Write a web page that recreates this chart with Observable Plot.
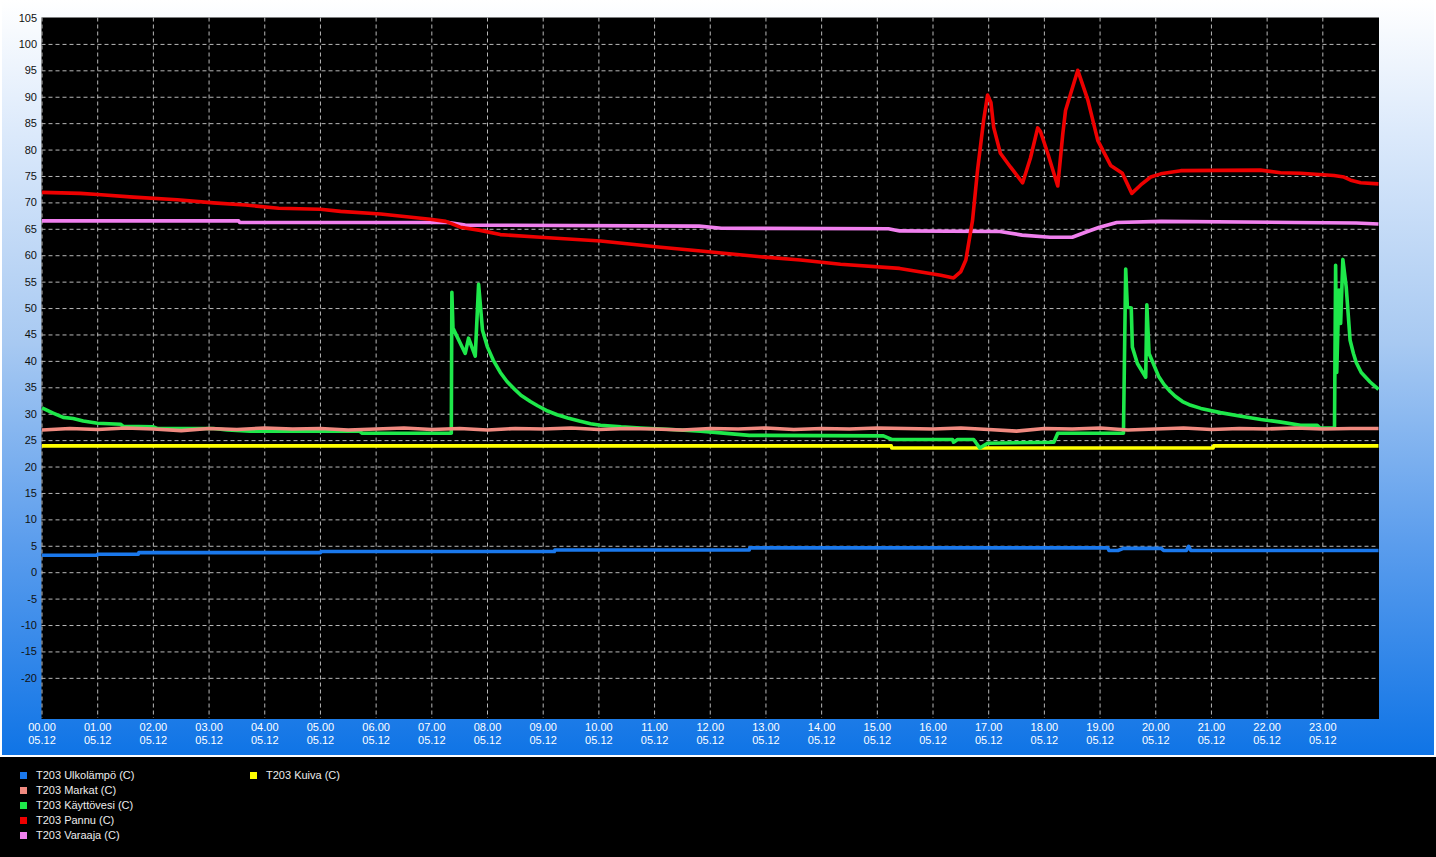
<!DOCTYPE html>
<html>
<head>
<meta charset="utf-8">
<script src="https://cdn.jsdelivr.net/npm/d3@7"></script>
<script src="https://cdn.jsdelivr.net/npm/@observablehq/plot@0.6"></script>
<style>
  html, body { margin: 0; padding: 0; background: #fff; }
  body { width: 1436px; height: 857px; position: relative; overflow: hidden;
         font-family: "Liberation Sans", "DejaVu Sans", sans-serif; }
  #bg { position: absolute; left: 2px; top: 0; width: 1432px; height: 755px;
        background: linear-gradient(to bottom, #ffffff 0%, #dbe9fb 18%, #a9caf2 45%, #5b9ded 72%, #0f74e6 100%); }
  #chart { position: absolute; left: 0; top: 0; }
  #legend { position: absolute; left: 0; top: 757px; width: 1436px; height: 100px; background: #000; }
  .item { position: absolute; font-size: 11px; color: #ececec; white-space: nowrap; line-height: 13px; }
  .sw { position: absolute; width: 7px; height: 7px; }
</style>
</head>
<body>
<div id="bg"></div>
<div id="chart"></div>
<div id="legend"></div>
<script>
// ---- Data (hours of day 05.12, temperature °C) ----
const seriesNames = ["T203 Ulkolämpö (C)", "T203 Markat (C)", "T203 Käyttövesi (C)", "T203 Pannu (C)", "T203 Varaaja (C)", "T203 Kuiva (C)"];
const seriesColors = ["#1a78ec", "#f08a80", "#1ee84a", "#ee0000", "#f080ee", "#ffff00"];

const ulkoHours  = [0, 0.99, 1.0, 1.73, 1.74, 5.0, 5.01, 9.2, 9.21, 12.7, 12.71, 19.14, 19.16, 19.32, 19.42, 20.1, 20.14, 20.55, 20.59, 20.63, 24];
const ulkoValues = [3.3, 3.3, 3.5, 3.5, 3.8, 3.8, 4.0, 4.0, 4.3, 4.3, 4.7, 4.7, 4.2, 4.2, 4.6, 4.6, 4.2, 4.2, 5.0, 4.2, 4.2];

const markatHours  = [0,0.5,1,1.5,2,2.5,3,3.5,4,4.5,5,5.5,6,6.5,7,7.5,8,8.5,9,9.5,10,10.5,11,11.5,12,12.5,13,13.5,14,14.5,15,15.5,16,16.5,17,17.5,18,18.5,19,19.5,20,20.5,21,21.5,22,22.5,23,23.5,24];
const markatValues = [27.0,27.3,27.1,27.4,27.2,26.9,27.3,27.1,27.4,27.2,27.3,27.0,27.2,27.4,27.1,27.3,27.0,27.3,27.2,27.4,27.1,27.3,27.2,27.0,27.3,27.2,27.4,27.1,27.3,27.2,27.4,27.3,27.2,27.4,27.1,26.8,27.3,27.2,27.4,27.0,27.2,27.4,27.1,27.3,27.2,27.4,27.2,27.3,27.3];

const kayttoHours  = [0,0.2,0.38,0.56,0.74,1.0,1.41,1.46,2.0,2.07,3.08,3.33,3.74,5.7,5.75,7.35,7.36,7.38,7.6,7.66,7.78,7.84,7.91,8.0,8.1,8.23,8.35,8.47,8.6,8.77,8.9,9.08,9.25,9.44,9.65,9.85,10.03,10.4,10.75,11.3,11.83,12.7,15.11,15.27,16.35,16.37,16.44,16.73,16.84,16.98,18.17,18.24,19.42,19.46,19.49,19.56,19.58,19.67,19.82,19.84,19.88,20.05,20.15,20.26,20.35,20.48,20.6,20.81,21.16,21.53,21.89,22.25,22.6,22.9,22.95,23.21,23.23,23.25,23.29,23.32,23.36,23.42,23.49,23.55,23.6,23.69,23.85,24.0];
const kayttoValues = [31.2,30.2,29.4,29.2,28.7,28.3,28.1,27.7,27.6,27.3,27.3,27.0,26.8,26.8,26.4,26.4,53.1,46.3,41.5,44.4,41.0,54.6,45.9,42.7,40.3,37.9,36.2,34.9,33.6,32.4,31.6,30.6,29.9,29.3,28.7,28.2,27.9,27.6,27.4,27.1,26.8,26.0,25.9,25.2,25.2,24.7,25.2,25.2,23.6,24.5,24.7,26.4,26.4,57.5,50.3,50.1,42.7,39.6,37.0,50.7,41.5,37.2,35.6,34.3,33.4,32.4,31.8,31.1,30.3,29.6,29.0,28.5,27.9,27.9,27.4,27.4,58.2,37.9,53.5,47.2,59.3,54.1,44.0,41.5,39.8,37.9,36.1,34.7];

const pannuHours  = [0,0.69,1.0,1.64,2.43,3.08,3.65,4.25,5.0,5.36,6.08,6.97,7.25,7.51,7.87,8.23,8.95,10.03,11.11,11.83,12.9,13.62,14.34,15.4,16.14,16.37,16.5,16.59,16.71,16.8,16.91,16.98,17.04,17.09,17.21,17.39,17.61,17.75,17.88,17.93,18.06,18.24,18.33,18.38,18.6,18.78,18.96,19.19,19.4,19.57,19.73,19.91,20.09,20.45,21.88,22.24,22.6,23.2,23.38,23.5,23.68,24.0];
const pannuValues = [72.0,71.8,71.6,71.1,70.6,70.0,69.6,69.0,68.8,68.4,67.9,66.9,66.5,65.4,64.8,64.0,63.5,62.8,61.6,60.9,59.8,59.2,58.4,57.6,56.3,55.8,57.0,59.2,66.7,76.2,85.7,90.4,89.0,84.3,79.4,76.8,73.8,78.5,84.2,83.5,79.4,73.2,83.0,87.5,95.1,89.5,81.8,77.1,75.6,71.8,73.4,74.9,75.5,76.1,76.2,75.7,75.6,75.2,74.9,74.3,73.8,73.6];

const varaajaHours  = [0,3.53,3.55,7.3,7.6,11.8,12.2,15.2,15.4,17.2,17.6,18.1,18.5,18.75,18.99,19.3,20.1,22.5,23.6,24.0];
const varaajaValues = [66.6,66.6,66.3,66.3,65.8,65.6,65.2,65.1,64.7,64.6,63.9,63.5,63.5,64.5,65.4,66.3,66.5,66.3,66.2,66.0];

const kuivaHours  = [0,15.25,15.26,21.03,21.04,24];
const kuivaValues = [24.0,24.0,23.6,23.6,24.0,24.0];

const xTicks = d3.range(0, 24);
const xTickDate = "05.12";
const yTicks = d3.range(-20, 106, 5);

// ---- Build table ----
const seriesHours = [ulkoHours, markatHours, kayttoHours, pannuHours, varaajaHours, kuivaHours];
const seriesValues = [ulkoValues, markatValues, kayttoValues, pannuValues, varaajaValues, kuivaValues];
const rows = [];
seriesNames.forEach((name, i) => {
  seriesHours[i].forEach((h, j) => rows.push({series: name, hour: h, value: seriesValues[i][j]}));
});

const gridStyle = {stroke: "#b8b8b8", strokeDasharray: "4,3", strokeWidth: 1};
const pad = n => String(n).padStart(2, "0");

const chart = Plot.plot({
  width: 1436,
  height: 755,
  marginLeft: 41.5,
  marginRight: 58,
  marginTop: 17.5,
  marginBottom: 37,
  style: {background: "transparent", fontFamily: "Liberation Sans, DejaVu Sans, sans-serif", fontSize: "11px"},
  x: {domain: [0, 24], label: null},
  y: {domain: [-27.6, 105], label: null},
  color: {domain: seriesNames, range: seriesColors},
  marks: [
    Plot.frame({fill: "black", stroke: "black"}),
    Plot.ruleY(yTicks.filter(v => v < 105), {y: d => d, ...gridStyle}),
    Plot.ruleX(xTicks, {x: d => d, ...gridStyle}),
    ...seriesNames.slice().reverse().map(name =>
      Plot.line(rows.filter(r => r.series === name), {
        x: "hour", y: "value", stroke: "series", strokeWidth: 3.6, strokeLinejoin: "round", strokeLinecap: "butt"
      })
    ),
    Plot.axisY({ticks: yTicks, tickSize: 0, tickPadding: 5, tickFormat: d => String(d), fill: "#111", fontSize: 11, label: null}),
    Plot.axisX({ticks: xTicks, tickSize: 0, tickPadding: 3, tickFormat: h => `${pad(h)}.00\n${xTickDate}`, fill: "#fff", fontSize: 11, lineHeight: 1.2, label: null})
  ]
});
document.getElementById("chart").appendChild(chart);

// ---- Legend ----
const legend = document.getElementById("legend");
const legendCols = [0,0,0,0,0,1];
const legendRows = [0,1,2,3,4,0];
seriesNames.forEach((name, i) => {
  const sx = legendCols[i] === 0 ? 20 : 250;
  const top = 12 + legendRows[i] * 15;
  const sw = document.createElement("div");
  sw.className = "sw";
  sw.style.left = sx + "px";
  sw.style.top = (top + 3) + "px";
  sw.style.background = seriesColors[i];
  legend.appendChild(sw);
  const t = document.createElement("div");
  t.className = "item";
  t.style.left = (sx + 16) + "px";
  t.style.top = top + "px";
  t.textContent = name;
  legend.appendChild(t);
});
</script>
</body>
</html>
